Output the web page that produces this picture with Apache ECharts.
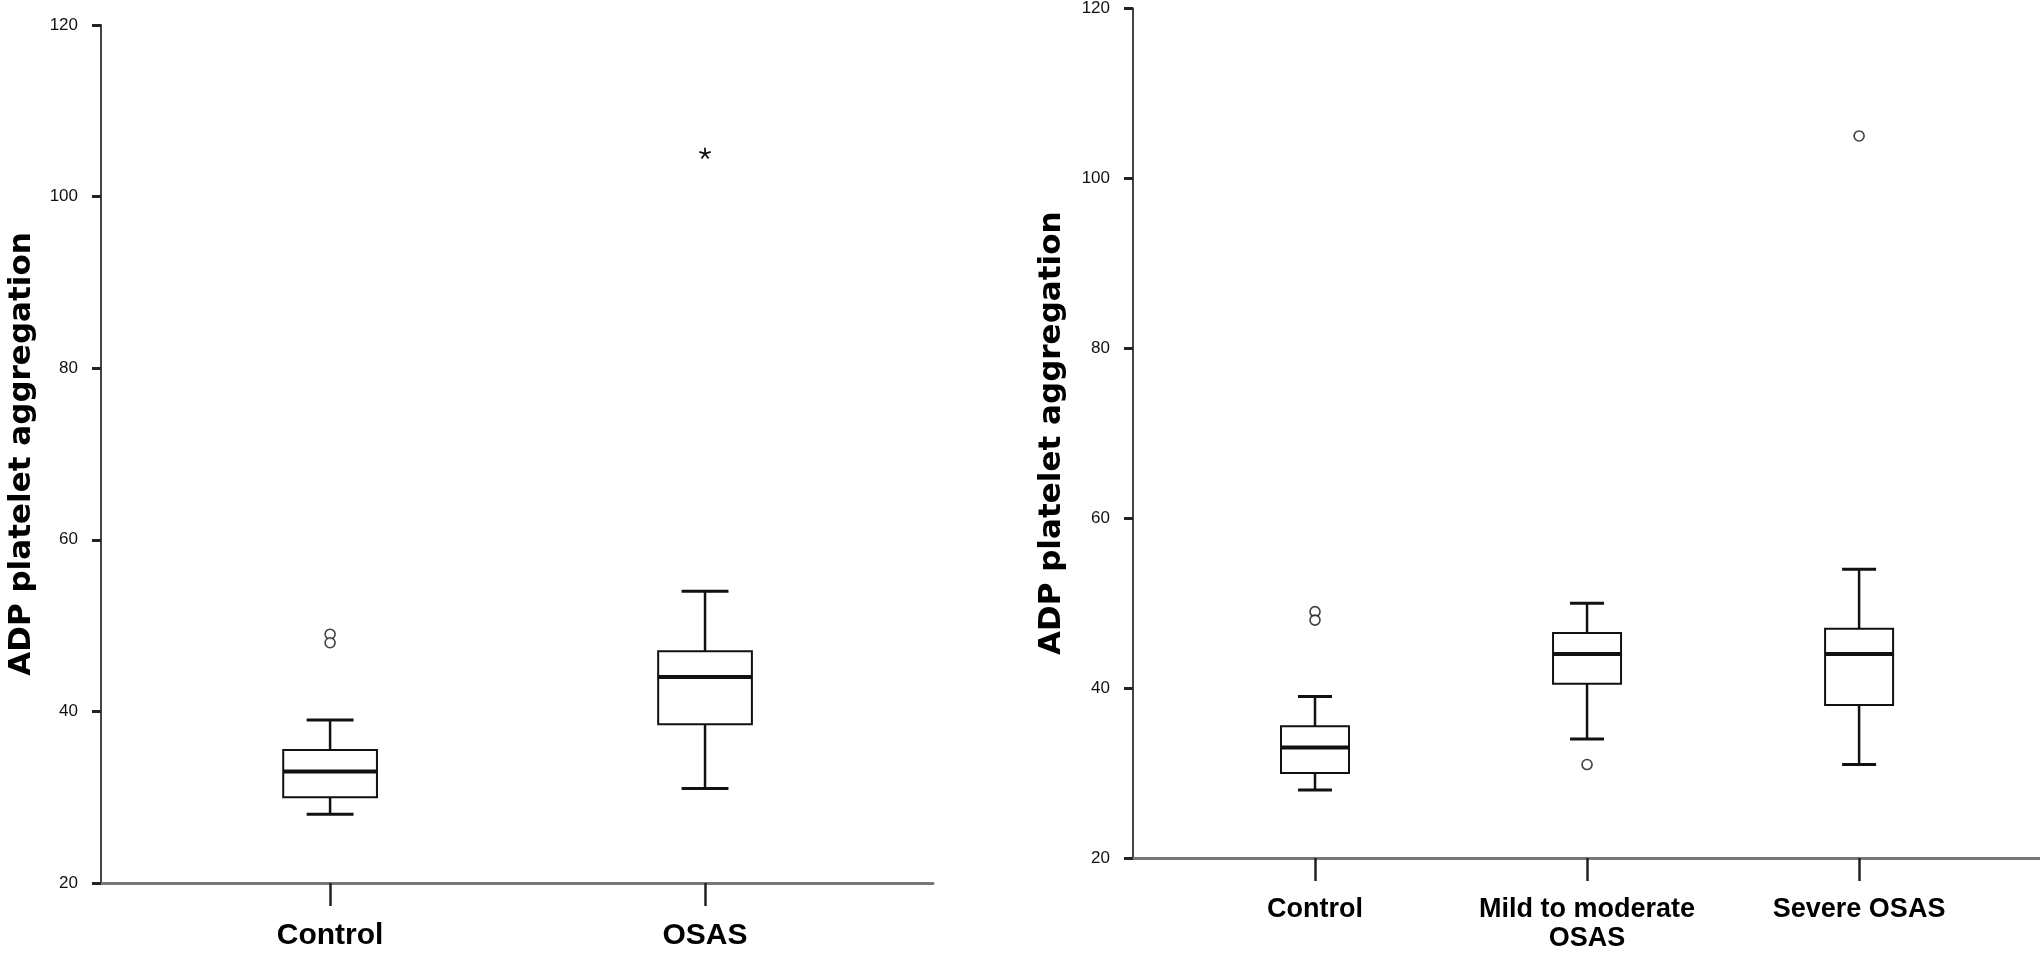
<!DOCTYPE html>
<html>
<head>
<meta charset="utf-8">
<title>ADP platelet aggregation</title>
<script src="https://cdn.jsdelivr.net/npm/echarts@6/dist/echarts.min.js"></script>
<style>
  html, body { margin: 0; padding: 0; background: #fff; }
  #main { width: 2040px; height: 953px; }
</style>
</head>
<body>
<div id="main"></div>
<script>
// 左图：对照组 vs OSAS
var leftCategories = ['Control', 'OSAS'];
// [下须, Q1, 中位数, Q3, 上须]
var leftBoxes = [
    [28, 30, 33, 35.5, 39],
    [31, 38.5, 44, 47, 54]
];
var leftOutliers = [[0, 49], [0, 48]];   // 圆圈
var leftExtremes = [[1, 105]];           // 星号

// 右图：对照组 / 轻中度 / 重度
var rightCategories = ['Control', 'Mild to moderate\nOSAS', 'Severe OSAS'];
var rightBoxes = [
    [28, 30, 33, 35.5, 39],
    [34, 40.5, 44, 46.5, 50],
    [31, 38, 44, 47, 54]
];
var rightOutliers = [[0, 49], [0, 48], [1, 31], [2, 105]];

var yTicks = [20, 40, 60, 80, 100, 120];

var sans = "'Liberation Sans', Arial, sans-serif";

// 箱线图用custom画，须线帽只有箱子一半宽
function renderBox(params, api) {
    var x = api.value(0);
    var lo = api.coord([x, api.value(1)]);
    var q1 = api.coord([x, api.value(2)]);
    var med = api.coord([x, api.value(3)]);
    var q3 = api.coord([x, api.value(4)]);
    var hi = api.coord([x, api.value(5)]);
    var halfBox = api.size([0.25, 0])[0] / 2;
    var halfCap = halfBox / 2;
    var cx = med[0];
    var black = '#111';
    return {
        type: 'group',
        children: [
            { type: 'line', shape: { x1: cx, y1: q3[1], x2: cx, y2: hi[1] }, style: { stroke: black, lineWidth: 2.5 } },
            { type: 'line', shape: { x1: cx, y1: q1[1], x2: cx, y2: lo[1] }, style: { stroke: black, lineWidth: 2.5 } },
            { type: 'line', shape: { x1: cx - halfCap, y1: hi[1], x2: cx + halfCap, y2: hi[1] }, style: { stroke: black, lineWidth: 3 } },
            { type: 'line', shape: { x1: cx - halfCap, y1: lo[1], x2: cx + halfCap, y2: lo[1] }, style: { stroke: black, lineWidth: 3 } },
            { type: 'rect', shape: { x: cx - halfBox, y: q3[1], width: halfBox * 2, height: q1[1] - q3[1] }, style: { fill: '#fff', stroke: black, lineWidth: 2 } },
            { type: 'line', shape: { x1: cx - halfBox, y1: med[1], x2: cx + halfBox, y2: med[1] }, style: { stroke: black, lineWidth: 4 } }
        ]
    };
}

// 星号（极端值）
function renderStar(params, api) {
    var p = api.coord([api.value(0), api.value(1)]);
    var arms = [];
    for (var i = 0; i < 5; i++) {
        var a = -Math.PI / 2 + i * 2 * Math.PI / 5;
        arms.push({
            type: 'line',
            shape: { x1: p[0], y1: p[1], x2: p[0] + 6 * Math.cos(a), y2: p[1] + 6 * Math.sin(a) },
            style: { stroke: '#111', lineWidth: 1.8 }
        });
    }
    return { type: 'group', children: arms };
}

function boxData(boxes) {
    return boxes.map(function (b, i) { return [i].concat(b); });
}

function yAxisOpt(gridIndex, gap) {
    return {
        type: 'value',
        gridIndex: gridIndex,
        min: yTicks[0],
        max: yTicks[yTicks.length - 1],
        interval: yTicks[1] - yTicks[0],
        name: 'ADP platelet aggregation',
        nameLocation: 'middle',
        nameRotate: 90,
        nameGap: gap,
        nameTextStyle: { fontFamily: "'DejaVu Sans', sans-serif", fontWeight: 'bold', fontSize: 31, color: '#000' },
        axisLine: { show: true, onZero: false, lineStyle: { color: '#444', width: 2 } },
        axisTick: { show: true, length: 9, lineStyle: { color: '#222', width: 3 } },
        axisLabel: { margin: 23, fontFamily: sans, fontSize: 17, color: '#111' },
        splitLine: { show: false }
    };
}

function xAxisOpt(gridIndex, cats, min, max, fontSize, margin) {
    var idx = cats.map(function (c, i) { return i; });
    return {
        type: 'value',
        gridIndex: gridIndex,
        min: min,
        max: max,
        axisLine: { show: true, onZero: false, lineStyle: { color: '#777', width: 3 } },
        axisTick: { show: true, customValues: idx, length: 23, lineStyle: { color: '#222', width: 2.5 } },
        axisLabel: {
            customValues: idx,
            margin: margin,
            formatter: function (v) { return cats[Math.round(v)]; },
            fontFamily: sans,
            fontWeight: 'bold',
            fontSize: fontSize,
            lineHeight: 29,
            color: '#000'
        },
        splitLine: { show: false }
    };
}

var chart = echarts.init(document.getElementById('main'));

var option = {
    backgroundColor: '#fff',
    animation: false,
    grid: [
        { left: 101, right: 1107, top: 25, bottom: 70 },
        { left: 1133, right: 0, top: 8, bottom: 93 }
    ],
    xAxis: [
        xAxisOpt(0, leftCategories, -0.611, 1.608, 30, 38),
        xAxisOpt(1, rightCategories, -0.669, 2.665, 27, 37)
    ],
    yAxis: [
        yAxisOpt(0, 64),
        yAxisOpt(1, 66)
    ],
    series: [
        { type: 'custom', xAxisIndex: 0, yAxisIndex: 0, renderItem: renderBox, data: boxData(leftBoxes) },
        {
            type: 'scatter', xAxisIndex: 0, yAxisIndex: 0, data: leftOutliers,
            symbol: 'circle', symbolSize: 10,
            itemStyle: { color: '#fff', borderColor: '#111', borderWidth: 1.6 }
        },
        { type: 'custom', xAxisIndex: 0, yAxisIndex: 0, renderItem: renderStar, data: leftExtremes },
        { type: 'custom', xAxisIndex: 1, yAxisIndex: 1, renderItem: renderBox, data: boxData(rightBoxes) },
        {
            type: 'scatter', xAxisIndex: 1, yAxisIndex: 1, data: rightOutliers,
            symbol: 'circle', symbolSize: 10,
            itemStyle: { color: '#fff', borderColor: '#111', borderWidth: 1.6 }
        }
    ]
};

chart.setOption(option);
</script>
</body>
</html>
